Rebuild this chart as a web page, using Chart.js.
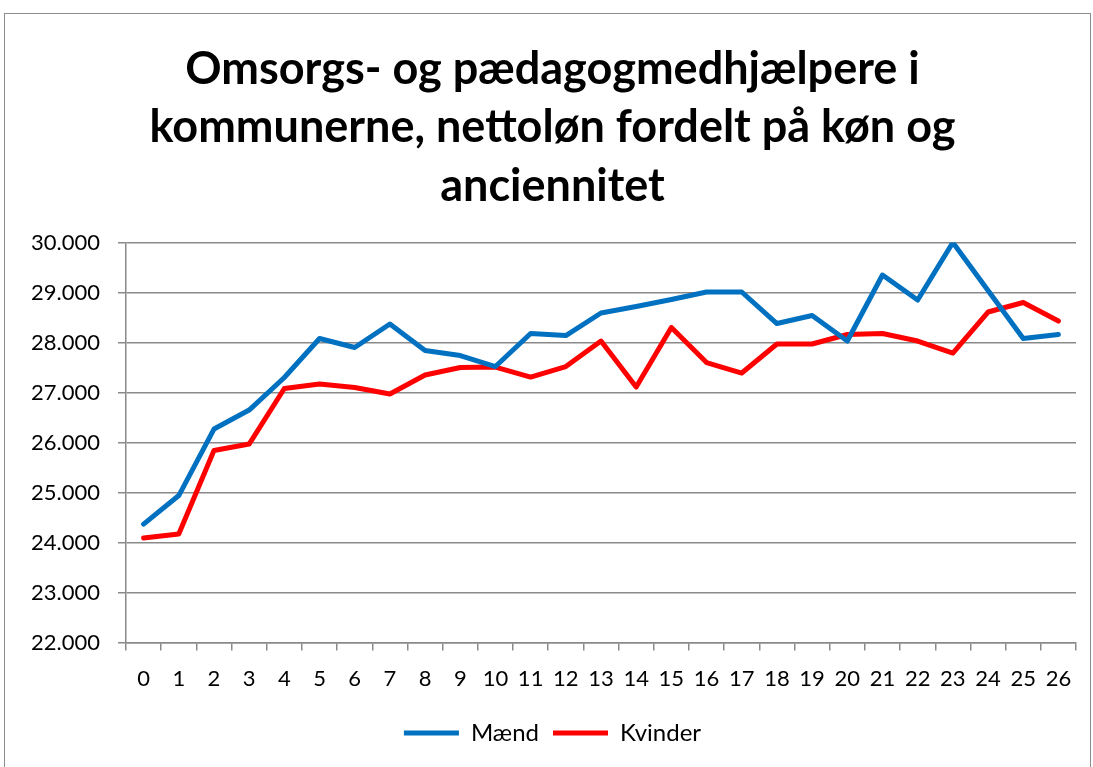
<!DOCTYPE html>
<html>
<head>
<meta charset="utf-8">
<script src="https://cdn.jsdelivr.net/npm/chart.js@4"></script>
<style>
  html, body { margin: 0; padding: 0; background: #fff; overflow: hidden; }
  #frame { position: absolute; left: 4px; top: 13px; width: 1085px; height: 800px; border: 1px solid #8c8c8c; }
  #wrap { position: absolute; left: 0; top: 0; width: 1093px; height: 767px; }
</style>
</head>
<body>
<div id="frame"></div>
<div id="wrap"><canvas id="chart"></canvas></div>
<script>
// anciennitet (år)
const years = ["0","1","2","3","4","5","6","7","8","9","10","11","12","13","14","15","16","17","18","19","20","21","22","23","24","25","26"];

// nettoløn, kr.
const maend = [24370, 24940, 26270, 26650, 27300, 28080, 27900, 28370, 27840, 27740, 27520, 28180, 28140, 28590, 28720, 28860, 29010, 29010, 28380, 28540, 28030, 29350, 28850, 30000, 29040, 28080, 28160];
const kvinder = [24090, 24170, 25840, 25970, 27080, 27170, 27100, 26970, 27350, 27500, 27510, 27310, 27520, 28030, 27110, 28300, 27600, 27390, 27970, 27970, 28160, 28180, 28030, 27790, 28610, 28800, 28430];

const yMin = 22000, yMax = 30000, yStep = 1000;

const titleLines = ["Omsorgs- og pædagogmedhjælpere i", "kommunerne, nettoløn fordelt på køn og", "anciennitet"];

const gridColor = "#8a8a8a";
const font = "Lato";

function fmt(v) {
    return String(v).replace(/\B(?=(\d{3})+(?!\d))/g, ".");
}

new Chart(document.getElementById("chart"), {
    type: "line",
    data: {
        labels: years,
        datasets: [{
            label: "Mænd",
            data: maend,
            borderColor: "#0070c0",
            backgroundColor: "#0070c0",
            borderWidth: 5,
            borderCapStyle: "round",
            borderJoinStyle: "round",
            pointRadius: 0,
            tension: 0
        }, {
            label: "Kvinder",
            data: kvinder,
            borderColor: "#ff0000",
            backgroundColor: "#ff0000",
            borderWidth: 5,
            borderCapStyle: "round",
            borderJoinStyle: "round",
            pointRadius: 0,
            tension: 0
        }]
    },
    options: {
        responsive: true,
        maintainAspectRatio: false,
        animation: false,
        // left padding nudges title/legend centre to the right, like the original
        layout: { padding: { left: 29, right: 17, top: 0, bottom: 12 } },
        plugins: {
            title: {
                display: true,
                text: titleLines,
                color: "#000",
                font: { family: font, size: 45, weight: "bold", lineHeight: 1.3 },
                padding: { top: 40, bottom: 27 }
            },
            legend: {
                position: "bottom",
                labels: {
                    usePointStyle: true,
                    pointStyle: "line",
                    pointStyleWidth: 55,
                    color: "#000",
                    font: { family: font, size: 24 },
                    padding: 14
                }
            },
            tooltip: { enabled: false }
        },
        scales: {
            x: {
                offset: true,
                grid: { offset: true, drawOnChartArea: false, drawTicks: true, tickLength: 8, color: gridColor, lineWidth: 1.5 },
                border: { color: gridColor, width: 1.5 },
                ticks: { color: "#000", font: { family: font, size: 22 }, padding: 15, maxRotation: 0, autoSkip: false }
            },
            y: {
                min: yMin,
                max: yMax,
                afterFit: function (scale) { scale.width = 97; },
                grid: { color: gridColor, lineWidth: 1.5, tickLength: 8 },
                border: { color: gridColor, width: 1.5 },
                ticks: { stepSize: yStep, color: "#000", font: { family: font, size: 22 }, padding: 18, callback: v => fmt(v) }
            }
        }
    }
});
</script>
</body>
</html>
